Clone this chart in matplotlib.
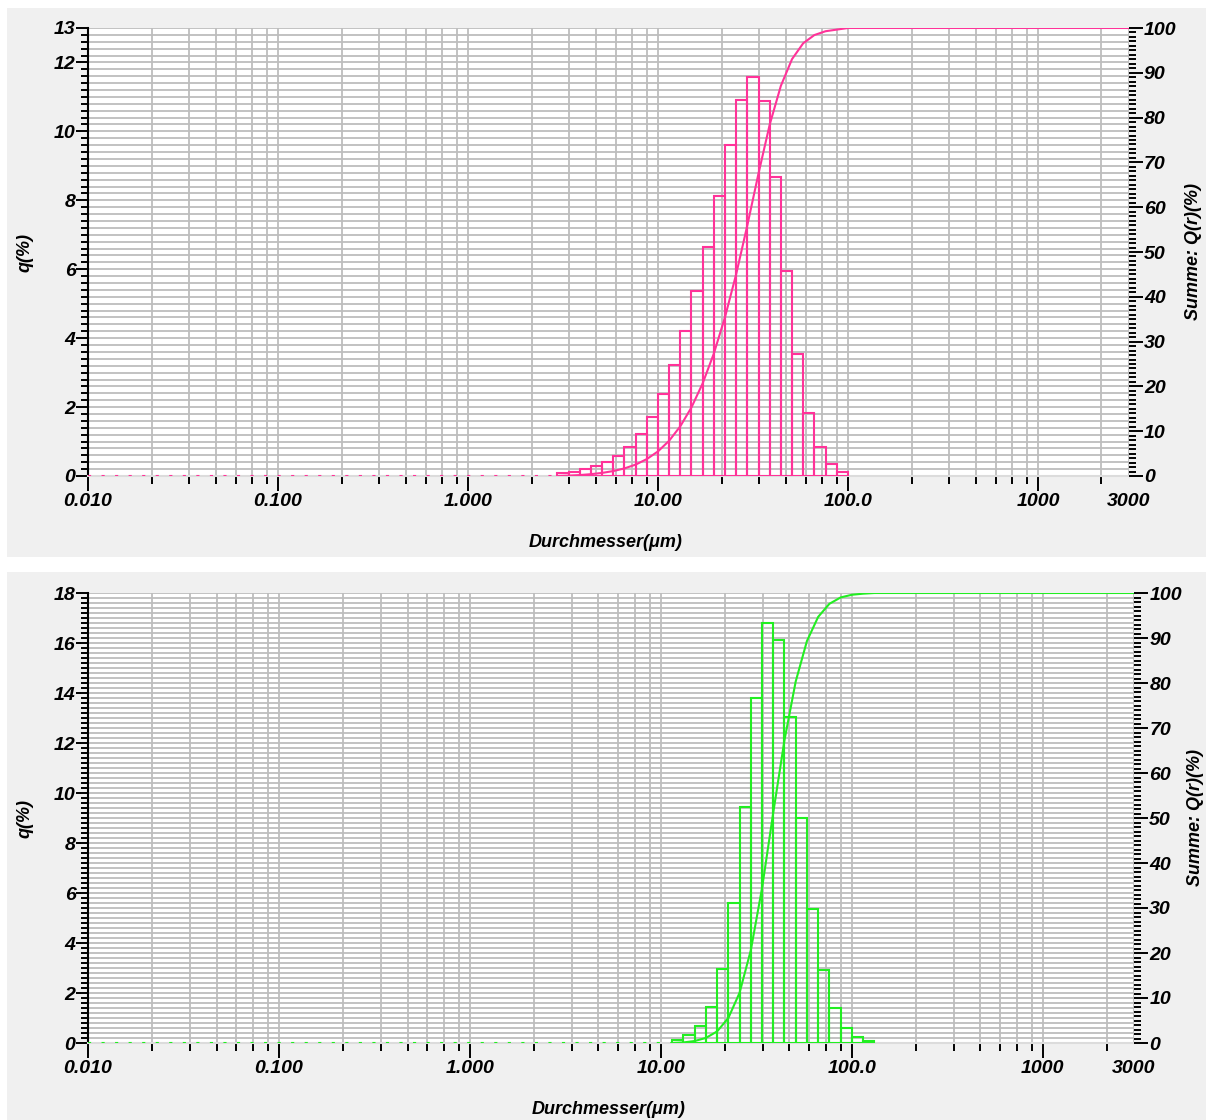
import numpy as np
import matplotlib.pyplot as plt
from matplotlib.patches import Rectangle
from matplotlib.ticker import NullFormatter

plt.rcParams['font.family'] = ['Liberation Sans', 'DejaVu Sans']
plt.rcParams['font.weight'] = 'bold'
plt.rcParams['font.style'] = 'italic'

# x axis (Durchmesser, log)
x_min, x_max = 0.01, 3000
x_major = [0.01, 0.1, 1, 10, 100, 1000, 3000]
x_major_labels = ['0.010', '0.100', '1.000', '10.00', '100.0', '1000', '3000']
minor_mult = [2.16, 3.42, 4.71, 5.99, 7.31, 8.72]  # odd minor positions of the instrument software
x_minor = [d * m for d in [0.01, 0.1, 1, 10, 100, 1000] for m in minor_mult if d * m < x_max]

# oben: pink
top_edges = [2.954, 3.383, 3.873, 4.435, 5.078, 5.814, 6.657, 7.623, 8.728, 10.0,
             11.45, 13.11, 15.01, 17.19, 19.68, 22.53, 25.80, 29.54, 33.83, 38.73,
             44.35, 50.78, 58.14, 66.57, 76.23, 87.28, 100.0]
top_q = [0.09, 0.12, 0.20, 0.28, 0.41, 0.59, 0.85, 1.23, 1.72, 2.38,
         3.23, 4.22, 5.36, 6.65, 8.12, 9.60, 10.92, 11.58, 10.88, 8.67,
         5.96, 3.54, 1.83, 0.85, 0.36, 0.12]
top_Q = [0, 0.09, 0.21, 0.41, 0.69, 1.10, 1.69, 2.54, 3.77, 5.49, 7.87,
         11.10, 15.32, 20.68, 27.33, 35.45, 45.05, 55.97, 67.55, 78.43, 87.10,
         93.06, 96.60, 98.43, 99.28, 99.64, 100.0]

# unten: gruen
bot_edges = [11.45, 13.11, 15.01, 17.19, 19.68, 22.53, 25.80, 29.54, 33.83, 38.73,
             44.35, 50.78, 58.14, 66.57, 76.23, 87.28, 100.0, 114.5, 131.1]
bot_q = [0.12, 0.32, 0.68, 1.45, 2.97, 5.60, 9.43, 13.80, 16.79, 16.13,
         13.04, 8.99, 5.37, 2.91, 1.41, 0.60, 0.24, 0.09]
bot_Q = [0, 0.12, 0.44, 1.12, 2.57, 5.54, 11.14, 20.57, 34.37, 51.16,
         67.29, 80.33, 89.32, 94.69, 97.60, 99.01, 99.61, 99.85, 100.0]

W, H = 1206, 1120
fig = plt.figure(figsize=(W / 100, H / 100), dpi=100)
grid_c = '#bdbdbd'


def panel(px, bg, edges, q, Q, ymax, yticks, color, ylab_xy, rlab_xy, xlab_xy):
    # px = (left, right, top, bottom) in pixels; bg = (x0, y0, x1, y1) in pixels
    fig.patches.append(Rectangle((bg[0] / W, 1 - bg[3] / H), (bg[2] - bg[0]) / W, (bg[3] - bg[1]) / H,
                                 transform=fig.transFigure, facecolor='#f0f0f0', edgecolor='none', zorder=-10))
    l, r, t, b = px
    ax = fig.add_axes([l / W, 1 - b / H, (r - l) / W, (b - t) / H])
    ax.set_xscale('log')
    ax.set_xlim(x_min, x_max)
    ax.set_ylim(0, ymax)
    ax.set_axisbelow(True)

    ax.bar(edges[:-1], q, width=np.diff(edges), align='edge', fill=False,
           edgecolor=color, linewidth=1.5, zorder=3)
    ax.plot([x_min, edges[0]], [0, 0], ls=(0, (1.5, 5)), color=color, lw=1.5, zorder=3)

    ax.set_xticks(x_major, x_major_labels)
    ax.set_xticks(x_minor, minor=True)
    ax.xaxis.set_minor_formatter(NullFormatter())
    ax.set_yticks(yticks, [str(v) for v in yticks])
    ax.set_yticks(np.arange(0, ymax + 0.01, 0.2), minor=True)
    ax.grid(True, which='both', color=grid_c, lw=1.3)

    ax.tick_params(axis='x', which='major', length=11, width=1.4, pad=1, labelsize=14)
    ax.tick_params(axis='x', which='minor', length=5.5, width=1.4)
    ax.tick_params(axis='y', which='major', length=8.5, width=1.4, pad=0.5, labelsize=14)
    ax.tick_params(axis='y', which='minor', length=5, width=1.4)
    ax.xaxis.get_major_ticks()[-1].tick1line.set_visible(False)

    for s in ['top', 'right']:
        ax.spines[s].set_visible(False)
    ax.spines['left'].set_linewidth(1.5)
    ax.spines['bottom'].set_color('#dcdcdc')
    ax.spines['bottom'].set_linewidth(1.5)

    ax2 = ax.twinx()
    ax2.set_ylim(0, 100)
    ax2.plot(list(edges) + [x_max], list(Q) + [100], color=color, lw=1.5, zorder=4)
    ax2.set_yticks(range(0, 101, 10))
    ax2.set_yticks(range(0, 101, 1), minor=True)
    ax2.tick_params(axis='y', which='major', length=10, width=1.4, pad=1, labelsize=14)
    ax2.tick_params(axis='y', which='minor', length=5, width=1.4)
    for s in ax2.spines.values():
        s.set_visible(False)

    fig.text(ylab_xy[0] / W, 1 - ylab_xy[1] / H, 'q(%)', rotation=90, ha='center', va='center', fontsize=13)
    fig.text(rlab_xy[0] / W, 1 - rlab_xy[1] / H, 'Summe: Q(r)(%)', rotation=90, ha='center', va='center', fontsize=13)
    fig.text(xlab_xy[0] / W, 1 - xlab_xy[1] / H, 'Durchmesser(\u03bcm)', ha='center', va='center', fontsize=13)


panel((88, 1128.6, 28, 476), (7, 8, W, 557), top_edges, top_q, top_Q, 13,
      [0, 2, 4, 6, 8, 10, 12, 13], '#ff3399', (25, 252), (1193, 252), (606, 542))
panel((88, 1134, 593, 1043), (7, 572, W, H), bot_edges, bot_q, bot_Q, 18,
      list(range(0, 19, 2)), '#22ee22', (25, 818), (1196, 818), (609, 1109))

fig.savefig('out.png', dpi=100)
